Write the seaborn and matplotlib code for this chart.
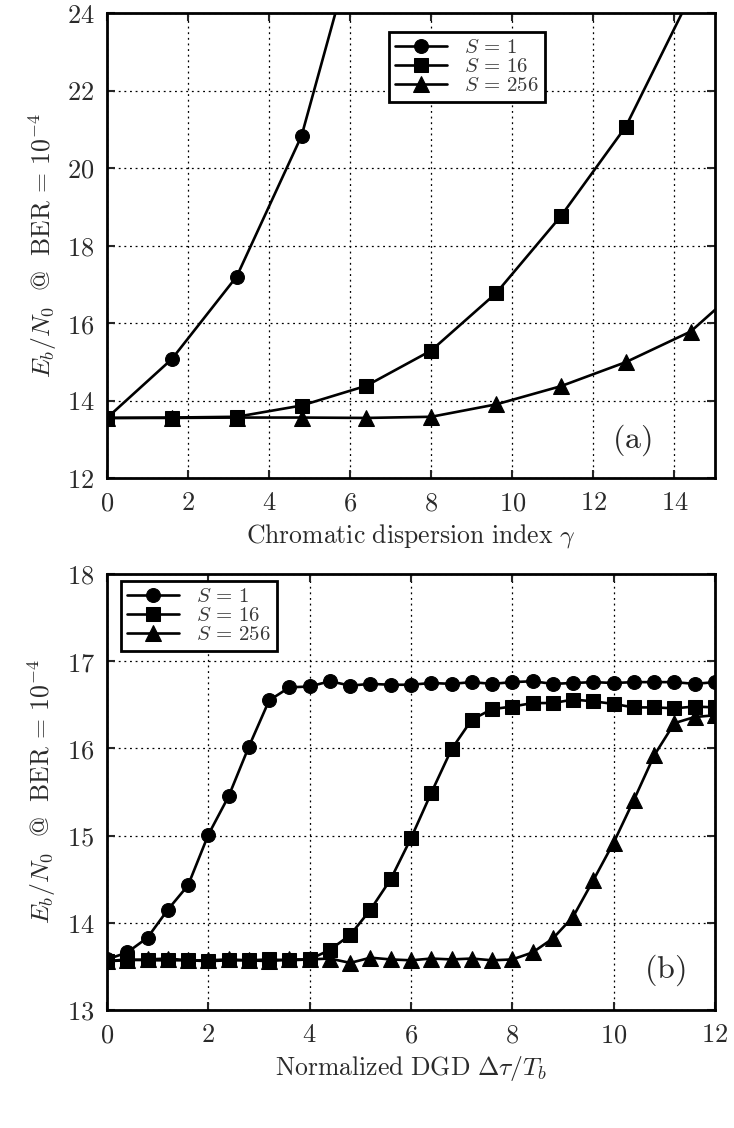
import numpy as np
import pandas as pd
import matplotlib
matplotlib.use("Agg")
import matplotlib.pyplot as plt
import seaborn as sns

# ---------------- data ----------------
series_labels = [r"$S\,=\,1$", r"$S\,=\,16$", r"$S\,=\,256$"]
markers = ["o", "s", "^"]

# Panel (a): chromatic dispersion index gamma
gamma = [0.0, 1.6, 3.2, 4.8, 6.4, 8.0, 9.6, 11.2, 12.8, 14.4, 16.0]
a_s1 = [13.55, 15.07, 17.20, 20.83, 26.9]
a_s16 = [13.55, 13.56, 13.58, 13.87, 14.38, 15.29, 16.77, 18.76, 21.07, 24.45]
a_s256 = [13.55, 13.55, 13.56, 13.56, 13.55, 13.58, 13.90, 14.37, 14.99, 15.78, 17.27]

# Panel (b): normalized DGD
dgd = [round(0.4 * i, 1) for i in range(31)]
b_s1 = [13.58, 13.66, 13.83, 14.15, 14.43, 15.01, 15.45, 16.02, 16.55, 16.70,
        16.71, 16.77, 16.72, 16.74, 16.73, 16.73, 16.75, 16.74, 16.76, 16.74,
        16.76, 16.77, 16.74, 16.75, 16.76, 16.75, 16.76, 16.76, 16.76, 16.74,
        16.76]
b_s16 = [13.56, 13.58, 13.57, 13.57, 13.57, 13.56, 13.57, 13.57, 13.58, 13.57,
         13.58, 13.69, 13.86, 14.15, 14.50, 14.97, 15.49, 15.99, 16.33, 16.45,
         16.48, 16.52, 16.52, 16.56, 16.54, 16.51, 16.47, 16.47, 16.46, 16.48,
         16.47]
b_s256 = [13.56, 13.57, 13.58, 13.59, 13.57, 13.57, 13.58, 13.57, 13.56, 13.58,
          13.58, 13.59, 13.54, 13.60, 13.58, 13.57, 13.59, 13.58, 13.59, 13.57,
          13.58, 13.66, 13.82, 14.07, 14.49, 14.92, 15.41, 15.92, 16.29, 16.36,
          16.38]

a_xticks = [0, 2, 4, 6, 8, 10, 12, 14]
a_yticks = [12, 14, 16, 18, 20, 22, 24]
b_xticks = [0, 2, 4, 6, 8, 10, 12]
b_yticks = [13, 14, 15, 16, 17, 18]

a_xlabel = r"$\mathrm{Chromatic\ dispersion\ index}\ \gamma$"
b_xlabel = r"$\mathrm{Normalized\ DGD}\ \Delta\tau/T_b$"
ylabel = r"$E_b/N_0\ \ @\ \ \mathrm{BER}\,=\,10^{-4}$"

# ---------------- style ----------------
sns.set_style("ticks")
plt.rcParams["mathtext.fontset"] = "cm"
plt.rcParams["font.family"] = ["DejaVu Serif"]
TXT = "#2a2a2a"

fig = plt.figure(figsize=(7.34, 11.28), dpi=100)
ax_a = fig.add_axes([107 / 734, 1 - 478 / 1128, 608 / 734, 465 / 1128])
ax_b = fig.add_axes([107 / 734, 1 - 1010 / 1128, 608 / 734, 436 / 1128])


def draw(ax, x, ys, xlim, ylim, xticks, yticks, xlabel, tag, tagpos, legloc, legbox):
    for y, lab, m in zip(ys, series_labels, markers):
        df = pd.DataFrame({"x": x[:len(y)], "y": y})
        ms = 11.5 if m == "^" else 10 if m == "o" else 9.5
        sns.lineplot(data=df, x="x", y="y", ax=ax, color="black", lw=1.9,
                     marker=m, markersize=ms, markeredgecolor="black",
                     label=lab, sort=False, clip_on=True)
    ax.set_xlim(*xlim)
    ax.set_ylim(*ylim)
    ax.set_xticks(xticks, labels=[f"${t}$" for t in xticks])
    ax.set_yticks(yticks, labels=[f"${t}$" for t in yticks])
    ax.tick_params(direction="in", length=6, width=1.5, top=True, right=True,
                   labelsize=19, labelcolor=TXT, pad=9)
    ax.grid(True, linestyle=(0, (1.5, 3)), color="black", lw=0.9)
    for s in ax.spines.values():
        s.set_linewidth(2.0)
        s.set_color("black")
    ax.set_xlabel(xlabel, fontsize=18.5, color=TXT, labelpad=5)
    ax.set_ylabel(ylabel, fontsize=18.5, color=TXT, labelpad=6)
    ax.text(tagpos[0], tagpos[1], tag, fontsize=23, color=TXT,
            ha="center", va="center")
    leg = ax.legend(loc=legloc, bbox_to_anchor=legbox, fontsize=15,
                    frameon=True, fancybox=False, framealpha=1,
                    edgecolor="black", handlelength=2.5, handletextpad=0.8,
                    borderpad=0.3, labelspacing=0.0, borderaxespad=0)
    leg.get_frame().set_linewidth(2.0)
    for t in leg.get_texts():
        t.set_color("#3a3a3a")


draw(ax_a, gamma, [a_s1, a_s16, a_s256], (0, 15), (12, 24), a_xticks, a_yticks,
     a_xlabel, r"$\mathrm{(a)}$", (12.95, 12.98), "upper left",
     ((389 - 107) / 608, 1 - (32 - 13) / 465))
draw(ax_b, dgd, [b_s1, b_s16, b_s256], (0, 12), (13, 18), b_xticks, b_yticks,
     b_xlabel, r"$\mathrm{(b)}$", (11.0, 13.46), "upper left",
     ((121 - 107) / 608, 1 - (581 - 574) / 436))

fig.savefig("out.png", dpi=100)
